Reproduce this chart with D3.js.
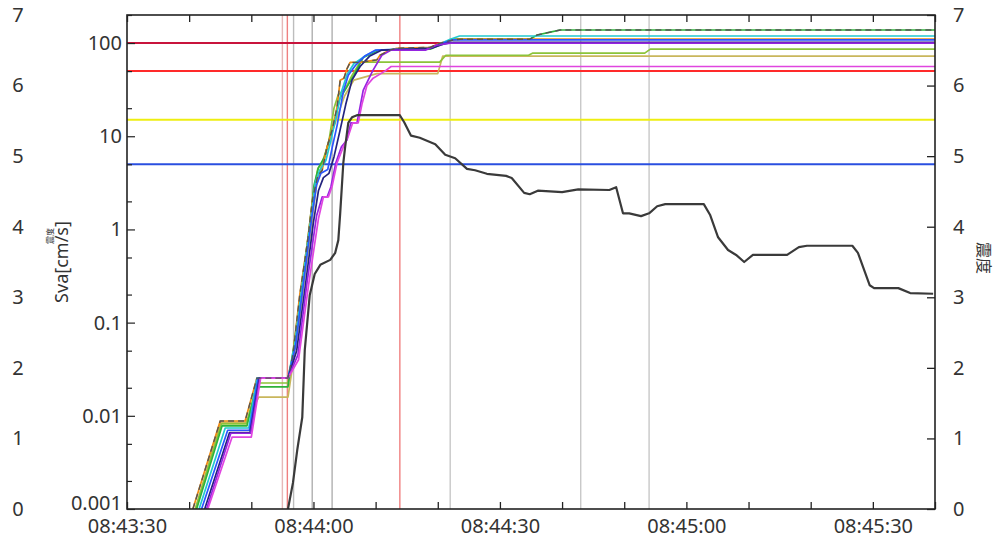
<!DOCTYPE html>
<html>
<head>
<meta charset="utf-8">
<script src="https://cdn.jsdelivr.net/npm/d3@7/dist/d3.min.js"></script>
<style>
  html, body { margin: 0; padding: 0; background: #fff; }
  svg { display: block; }
  text { font-family: "Noto Sans", "Noto Sans CJK JP", sans-serif; fill: #333; }
</style>
</head>
<body>
<svg id="chart" width="1003" height="545"></svg>
<script>
// Time values are seconds after 08:43:30; Sva in cm/s; intensity on the 0–7 scale.
const sVaTicks = [0.001, 0.01, 0.1, 1, 10, 100];
const sVaTickLabels = ["0.001", "0.01", "0.1", "1", "10", "100"];
const intensityTicks = [0, 1, 2, 3, 4, 5, 6, 7];
const timeLabels = ["08:43:30", "08:44:00", "08:44:30", "08:45:00", "08:45:30"];

// Horizontal reference levels (Sva)
const levelValues = [5, 15, 50, 100];
const levelColors = ["#2a4fe0", "#eeee10", "#ff2a2a", "#c8143c"];

// Vertical event markers (seconds)
const markerTimes = [25.0, 25.8, 26.8, 29.8, 33.0, 43.9, 52.0, 73.0, 84.0];
const markerColors = ["#e6b8b8", "#f08080", "#bdbdbd", "#b0b0b0", "#b0b0b0", "#f08080", "#c8c8c8", "#c8c8c8", "#c8c8c8"];

// Sva series: [seconds, Sva]
const orangeSva = [[10.6,0.001],[15.0,0.0088],[19.0,0.0088],[20.9,0.0254],[25.9,0.0254],[26.7,0.045],[27.8,0.2],[29.0,0.7],[29.9,2.2],[30.7,3.8],[31.4,4.3],[32.2,7.7],[33.0,11.6],[33.8,20.6],[34.3,40],[34.9,42],[35.4,53],[35.9,62],[37.5,62],[40.2,66],[40.7,74],[42.3,84],[43.4,88],[48.8,90],[50.4,100],[52.5,108],[53.6,110],[130,110]];
const yellowGreenSva = [[11.0,0.001],[15.2,0.0082],[19.2,0.0082],[21.0,0.0225],[25.9,0.0225],[26.8,0.05],[28.0,0.2],[29.2,0.8],[30.0,2.5],[30.7,4.5],[31.5,5.2],[32.5,9],[33.3,20],[34.0,28],[35.1,32],[36.2,45],[37.5,62.5],[50.3,62.5],[51.3,74],[64.6,74],[65.3,78],[83.3,78],[84.2,86],[130,86]];
const khakiSva = [[11.0,0.001],[15.1,0.0085],[19.1,0.0085],[21.2,0.0159],[25.9,0.0159],[26.8,0.04],[28.0,0.15],[29.5,0.9],[30.5,3],[31.5,5.5],[32.7,9.5],[33.8,16],[35.0,27],[36.5,40],[40.2,47],[50.0,47],[50.8,72.5],[130,72.5]];
const greenSva = [[11.2,0.001],[15.3,0.0078],[19.3,0.0078],[20.8,0.0204],[25.9,0.0204],[26.9,0.06],[28.1,0.25],[29.3,1.0],[30.1,3],[30.8,4.6],[31.8,6],[32.6,9.5],[33.4,14],[34.2,25],[35.3,33],[36.5,45],[38.0,70],[40.5,84],[48.8,86],[51.0,100],[52.5,110],[64.8,110],[66.0,122],[68.1,131],[69.7,138],[130,138]];
const cyanSva = [[11.6,0.001],[15.8,0.0074],[19.6,0.0074],[20.9,0.0254],[25.9,0.0254],[27.0,0.06],[28.3,0.3],[29.5,1.2],[30.3,3.2],[31.0,4.3],[32.0,5.5],[32.8,9],[33.6,16],[34.5,30],[35.4,46],[36.5,60],[38.5,74],[40.2,84],[48.8,88],[50.4,98],[52.0,110],[53.5,119],[130,119]];
const blueSva = [[12.0,0.001],[16.2,0.007],[19.7,0.007],[21.1,0.0254],[25.9,0.0254],[27.1,0.055],[28.5,0.3],[29.7,1.3],[30.5,3.0],[31.2,4.0],[32.3,4.4],[33.0,7.5],[33.8,13],[34.8,30],[35.6,45],[36.8,58],[38.2,72],[40.0,84],[48.8,88],[50.8,100],[52.5,108],[130,108]];
const navySva = [[12.5,0.001],[16.5,0.0066],[19.8,0.0066],[21.3,0.0254],[25.9,0.0254],[27.3,0.05],[28.7,0.25],[30.0,1.2],[30.8,2.6],[31.6,3.6],[32.5,4.0],[33.3,6],[34.2,11],[35.2,22],[36.2,40],[37.5,56],[39.0,72],[41.0,84],[49.0,88],[51.0,98],[52.5,102],[130,102]];
const purpleSva = [[12.8,0.001],[16.7,0.0065],[19.9,0.0065],[21.4,0.0254],[25.9,0.0254],[27.5,0.045],[29.0,0.28],[30.5,1.4],[31.4,2.23],[32.2,2.23],[32.8,2.85],[33.6,5.2],[34.5,7.7],[35.4,9.1],[36.0,13.9],[37.0,13.9],[37.5,20.6],[38.0,31],[39.5,50],[41.0,74],[42.5,84],[48.0,84],[49.8,95],[52.0,100],[130,100]];
const magentaSva = [[13.0,0.001],[16.9,0.0059],[20.0,0.0059],[21.5,0.0254],[25.9,0.0254],[27.6,0.04],[29.2,0.25],[30.8,1.3],[31.6,2.23],[32.4,2.23],[33.0,2.9],[33.8,5.2],[34.8,7.7],[35.6,10],[36.3,13.9],[37.2,13.9],[37.8,22],[38.6,35],[39.6,42],[41.5,50],[42.5,56],[130,56]];
const maxSva = [[10.6,0.001],[15.0,0.0088],[19.0,0.0088],[20.9,0.0254],[25.9,0.0254],[26.7,0.045],[27.8,0.2],[29.0,0.7],[29.9,2.2],[30.7,3.8],[31.4,4.3],[32.2,7.7],[33.0,11.6],[33.8,20.6],[34.3,40],[34.9,42],[35.4,53],[35.9,62],[37.5,62],[40.2,66],[40.7,74],[42.3,84],[43.4,88],[48.8,90],[50.4,100],[52.5,108],[53.6,110],[64.8,110],[66.0,122],[68.1,131],[69.7,138],[130,138]];

const sVaSeries = [
  { name: "khaki", color: "#c9b65c", data: khakiSva },
  { name: "yellowgreen", color: "#8cc43a", data: yellowGreenSva },
  { name: "green", color: "#2fb23a", data: greenSva },
  { name: "orange", color: "#f08a10", data: orangeSva },
  { name: "cyan", color: "#22c8d0", data: cyanSva },
  { name: "blue", color: "#2b55ff", data: blueSva },
  { name: "navy", color: "#23237e", data: navySva },
  { name: "purple", color: "#9524e0", data: purpleSva },
  { name: "magenta", color: "#e046e0", data: magentaSva }
];

// Real-time intensity: [seconds, intensity]
const intensityData = [[25.9,0],[26.7,0.37],[27.4,0.84],[28.2,1.30],[28.6,2.25],[29.4,3.03],[30.2,3.33],[31.1,3.46],[32.7,3.53],[33.5,3.63],[34.0,3.81],[34.3,4.19],[34.8,4.90],[35.1,5.13],[35.6,5.47],[36.2,5.55],[37.0,5.58],[43.9,5.58],[44.6,5.48],[45.7,5.29],[47.1,5.26],[49.6,5.17],[51.2,5.02],[52.8,4.97],[54.7,4.82],[56.0,4.80],[57.9,4.75],[61.0,4.72],[61.9,4.69],[63.9,4.48],[64.8,4.46],[66.1,4.51],[70.0,4.49],[72.6,4.53],[77.6,4.52],[78.7,4.56],[79.8,4.19],[80.8,4.19],[82.7,4.15],[84.0,4.19],[85.3,4.29],[86.6,4.32],[92.8,4.32],[93.8,4.17],[95.1,3.85],[96.7,3.67],[98.0,3.60],[99.3,3.50],[100.7,3.60],[106.2,3.60],[108.1,3.71],[109.4,3.73],[116.7,3.73],[117.6,3.63],[119.5,3.17],[120.2,3.13],[124.1,3.13],[126.0,3.06],[129.7,3.05]];

// ---------------------------------------------------------------
const W = 1003, H = 545;
const plot = { left: 127, right: 935, top: 15, bottom: 509 };
const start = new Date(2000, 0, 1, 8, 43, 30);
const at = s => new Date(start.getTime() + s * 1000);

const x = d3.scaleTime().domain([at(0), at(130)]).range([plot.left, plot.right]);
const ySva = d3.scaleLog().domain([0.001, 200]).range([plot.bottom, plot.top]);
const yInt = d3.scaleLinear().domain([0, 7]).range([plot.bottom, plot.top]);

const svg = d3.select("#chart");

svg.append("defs").append("clipPath").attr("id", "plotClip")
  .append("rect")
  .attr("x", plot.left).attr("y", plot.top)
  .attr("width", plot.right - plot.left).attr("height", plot.bottom - plot.top);

const g = svg.append("g").attr("clip-path", "url(#plotClip)");

// vertical event markers
g.selectAll("line.marker").data(markerTimes).join("line")
  .attr("class", "marker")
  .attr("x1", d => x(at(d))).attr("x2", d => x(at(d)))
  .attr("y1", plot.top).attr("y2", plot.bottom)
  .attr("stroke", (d, i) => markerColors[i])
  .attr("stroke-width", 1.4);

// horizontal reference levels
g.selectAll("line.level").data(levelValues).join("line")
  .attr("class", "level")
  .attr("x1", plot.left).attr("x2", plot.right)
  .attr("y1", d => ySva(d)).attr("y2", d => ySva(d))
  .attr("stroke", (d, i) => levelColors[i])
  .attr("stroke-width", 2);

// Sva curves
const sVaLine = d3.line().x(d => x(at(d[0]))).y(d => ySva(d[1]));
g.selectAll("path.sva").data(sVaSeries).join("path")
  .attr("class", "sva")
  .attr("d", d => sVaLine(d.data))
  .attr("fill", "none")
  .attr("stroke", d => d.color)
  .attr("stroke-width", 1.7)
  .attr("stroke-linejoin", "round");

// running maximum (dashed)
g.append("path")
  .attr("d", sVaLine(maxSva))
  .attr("fill", "none")
  .attr("stroke", "#555")
  .attr("stroke-width", 1.4)
  .attr("stroke-dasharray", "6,4");

// intensity curve
const intLine = d3.line().x(d => x(at(d[0]))).y(d => yInt(d[1]));
g.append("path")
  .attr("d", intLine(intensityData))
  .attr("fill", "none")
  .attr("stroke", "#3a3a3a")
  .attr("stroke-width", 2.2)
  .attr("stroke-linejoin", "round");

// frame
svg.append("rect")
  .attr("x", plot.left).attr("y", plot.top)
  .attr("width", plot.right - plot.left).attr("height", plot.bottom - plot.top)
  .attr("fill", "none").attr("stroke", "#222").attr("stroke-width", 1.6);

// time axes (bottom with labels, top ticks only)
const tickTimes = d3.range(0, 131, 10).map(at);
const fmt = d3.timeFormat("%H:%M:%S");
const xBottom = d3.axisBottom(x).tickValues(tickTimes).tickSize(-7).tickPadding(10)
  .tickFormat(d => timeLabels.includes(fmt(d)) ? fmt(d) : "");
const xTop = d3.axisTop(x).tickValues(tickTimes).tickSize(-7).tickFormat("");

const axB = svg.append("g").attr("transform", `translate(0,${plot.bottom})`).call(xBottom);
const axT = svg.append("g").attr("transform", `translate(0,${plot.top})`).call(xTop);
[axB, axT].forEach(a => {
  a.select(".domain").remove();
  a.selectAll(".tick line").attr("stroke", "#222").attr("stroke-width", 1.3);
});
axB.selectAll("text").attr("font-size", 20).attr("fill", "#333").style("font-family", "Noto Sans");

// Sva axis (log) with decade labels and minor ticks at 2 and 5
const minorSva = [];
[0.001, 0.01, 0.1, 1, 10, 100].forEach(d => { minorSva.push(d * 2, d * 5); });
const ySvaAxis = d3.axisLeft(ySva).tickValues(sVaTicks).tickSize(-8).tickPadding(5)
  .tickFormat((d, i) => sVaTickLabels[i]);
const ySvaMinor = d3.axisLeft(ySva).tickValues(minorSva.filter(v => v <= 200)).tickSize(-5).tickFormat("");
const axL = svg.append("g").attr("transform", `translate(${plot.left},0)`).call(ySvaAxis);
const axLm = svg.append("g").attr("transform", `translate(${plot.left},0)`).call(ySvaMinor);
[axL, axLm].forEach(a => {
  a.select(".domain").remove();
  a.selectAll(".tick line").attr("stroke", "#222").attr("stroke-width", 1.2);
});
axL.selectAll("text").attr("font-size", 20).attr("fill", "#333").style("font-family", "Noto Sans");
// lift the lowest decade label slightly so it clears the time labels
axL.selectAll(".tick").filter(d => d === 0.001).select("text").attr("dy", "0em");

// outer intensity scale on the left
const axL2 = svg.append("g").attr("transform", "translate(30,0)")
  .call(d3.axisLeft(yInt).tickValues(intensityTicks).tickSize(0).tickPadding(0).tickFormat(d3.format("d")));
axL2.select(".domain").remove();
axL2.selectAll("text").attr("text-anchor", "middle").attr("x", -12)
  .attr("font-size", 20).attr("fill", "#333").style("font-family", "Noto Sans");

// intensity axis on the right
const axR = svg.append("g").attr("transform", `translate(${plot.right},0)`)
  .call(d3.axisRight(yInt).tickValues(intensityTicks).tickSize(-8).tickPadding(18).tickFormat(d3.format("d")));
axR.select(".domain").remove();
axR.selectAll(".tick line").attr("stroke", "#222").attr("stroke-width", 1.3);
axR.selectAll("text").attr("font-size", 20).attr("fill", "#333").style("font-family", "Noto Sans");

// axis titles
svg.append("text")
  .attr("transform", "translate(68,262) rotate(-90)")
  .attr("text-anchor", "middle")
  .attr("font-size", 18)
  .text("Sva[cm/s]");
svg.append("text")
  .attr("transform", "translate(53,236) rotate(-90)")
  .attr("text-anchor", "middle")
  .attr("font-size", 8)
  .style("font-family", "Noto Sans CJK JP")
  .text("震度");
svg.append("text")
  .attr("transform", "translate(978,258) rotate(90)")
  .attr("text-anchor", "middle")
  .attr("font-size", 16)
  .style("font-family", "Noto Sans CJK JP")
  .text("震度");
</script>
</body>
</html>
